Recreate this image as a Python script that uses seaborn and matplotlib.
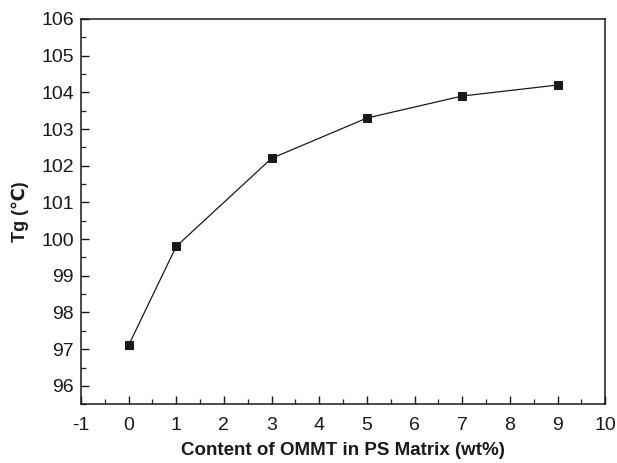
import matplotlib
matplotlib.use("Agg")
import matplotlib.pyplot as plt
from matplotlib.ticker import MultipleLocator
import seaborn as sns
import pandas as pd

# OMMT content (wt%) and glass transition temperature (°C)
content = [0, 1, 3, 5, 7, 9]
tg = [97.1, 99.8, 102.2, 103.3, 103.9, 104.2]

sns.set_theme(style="ticks")
plt.rcParams["font.family"] = ["Liberation Sans", "DejaVu Sans"]
plt.rcParams["axes.unicode_minus"] = False

df = pd.DataFrame({"content": content, "tg": tg})

fig = plt.figure(figsize=(6.17, 4.63), dpi=100)
ax = fig.add_axes([0.131, 0.127, 0.850, 0.832])

sns.lineplot(data=df, x="content", y="tg", ax=ax, color="#1a1a1a",
             linewidth=0.9, marker="s", markersize=5.3,
             markeredgecolor="#1a1a1a", markerfacecolor="#1a1a1a")

ax.set_xlim(-1, 10)
ax.set_ylim(95.5, 106)
ax.xaxis.set_major_locator(MultipleLocator(1))
ax.xaxis.set_minor_locator(MultipleLocator(0.5))
ax.yaxis.set_major_locator(MultipleLocator(1))
ax.yaxis.set_minor_locator(MultipleLocator(0.5))
ax.tick_params(which="major", direction="in", length=6, width=1.0,
               labelsize=14, colors="#1a1a1a", top=False, right=False)
ax.tick_params(which="minor", direction="in", length=3.5, width=0.9,
               top=False, right=False)
ax.tick_params(axis="x", pad=9)
ax.tick_params(axis="y", pad=5)

for s in ax.spines.values():
    s.set_linewidth(1.1)
    s.set_color("#1a1a1a")

ax.set_xlabel("Content of OMMT in PS Matrix (wt%)", fontsize=13.5,
              fontweight="bold", labelpad=6, color="#1a1a1a")
ax.set_ylabel("Tg (℃)", fontsize=13, fontweight="bold", labelpad=9,
              color="#1a1a1a")

fig.savefig("out.png", dpi=100)
